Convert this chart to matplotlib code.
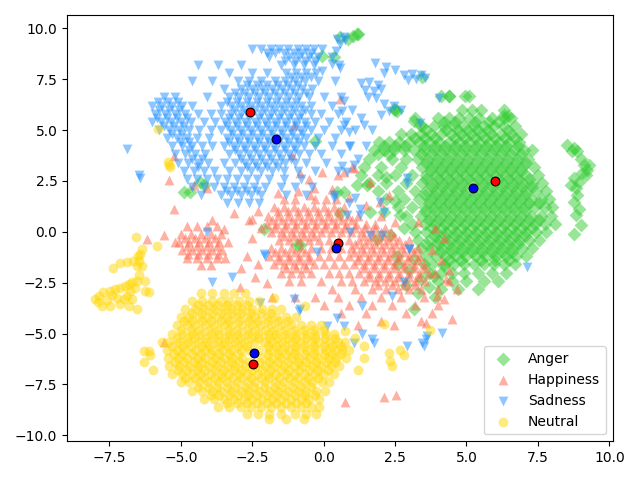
import matplotlib
matplotlib.use('Agg')
import matplotlib.pyplot as plt

labels = ['Anger', 'Happiness', 'Sadness', 'Neutral']
colors = ['limegreen', 'tomato', 'dodgerblue', 'gold']
markers = ['D', '^', 'v', 'o']

# dense parts read row by row: (y, [x, x, ...])
anger_rows = [
    (6.65, [4.1, 4.4, 4.95, 5.1]),
    (6.0, [2.5, 4.85, 5.2, 5.5, 6.3]),
    (5.6, [3.2, 4.0, 4.4, 4.75, 5.1, 5.45, 5.9, 6.3, 6.55]),
    (5.2, [3.45, 3.85, 4.2, 4.55, 4.9, 5.25, 5.6, 5.95, 6.3, 6.7]),
    (4.8, [2.7, 3.05, 3.4, 3.75, 4.1, 4.45, 4.8, 5.15, 5.5, 5.85, 6.2, 6.55, 6.9]),
    (4.4, [1.95, 2.3, 2.65, 3.0, 3.35, 3.7, 4.05, 4.4, 4.75, 5.1, 5.45, 5.8, 6.15, 6.5, 6.85]),
    (4.0, [1.75, 2.1, 2.45, 2.8, 3.15, 3.5, 3.85, 4.2, 4.55, 4.9, 5.25, 5.6, 5.95, 6.3, 6.65, 7.0, 7.3]),
    (3.6, [1.6, 2.4, 2.9, 3.3, 3.65, 4.0, 4.35, 4.7, 5.05, 5.4, 5.75, 6.1, 6.45, 6.8, 7.15]),
    (3.2, [1.4, 2.0, 2.7, 3.45, 3.8, 4.15, 4.5, 4.85, 5.2, 5.55, 5.9, 6.25, 6.6, 6.95, 7.35]),
    (2.8, [1.3, 1.9, 2.5, 3.1, 3.6, 3.95, 4.3, 4.65, 5.0, 5.35, 5.7, 6.05, 6.4, 6.75, 7.1, 7.5]),
    (2.4, [1.6, 2.2, 2.9, 3.45, 3.8, 4.15, 4.5, 4.85, 5.2, 5.55, 5.9, 6.25, 6.6, 6.95, 7.3, 7.65]),
    (2.0, [1.9, 2.6, 3.2, 3.6, 3.95, 4.3, 4.65, 5.0, 5.35, 5.7, 6.05, 6.4, 6.75, 7.1, 7.45, 7.8]),
    (1.6, [2.2, 2.8, 3.35, 3.75, 4.1, 4.45, 4.8, 5.15, 5.5, 5.85, 6.2, 6.55, 6.9, 7.25, 7.6, 7.9]),
    (1.2, [2.6, 3.1, 3.55, 3.9, 4.25, 4.6, 4.95, 5.3, 5.65, 6.0, 6.35, 6.7, 7.05, 7.4, 7.75, 8.0]),
    (0.8, [2.9, 3.4, 3.75, 4.1, 4.45, 4.8, 5.15, 5.5, 5.85, 6.2, 6.55, 6.9, 7.25, 7.6, 7.95]),
    (0.4, [3.1, 3.55, 3.9, 4.25, 4.6, 4.95, 5.3, 5.65, 6.0, 6.35, 6.7, 7.05, 7.4, 7.75, 8.1]),
    (0.0, [3.2, 3.6, 3.95, 4.3, 4.65, 5.0, 5.35, 5.7, 6.05, 6.4, 6.75, 7.1, 7.45, 7.8]),
    (-0.4, [3.3, 3.7, 4.05, 4.4, 4.75, 5.1, 5.45, 5.8, 6.15, 6.5, 6.85, 7.2, 7.55]),
    (-0.8, [3.4, 3.8, 4.15, 4.5, 4.85, 5.2, 5.55, 5.9, 6.25, 6.6, 6.95, 7.3]),
    (-1.2, [3.6, 3.95, 4.3, 4.65, 5.0, 5.35, 5.7, 6.05, 6.4, 6.75, 7.1]),
    (-1.6, [3.8, 4.2, 4.55, 4.9, 5.25, 5.6, 5.95, 6.3, 6.7]),
    (-2.0, [3.7, 4.1, 4.5, 4.9, 5.4, 5.9, 6.4]),
    (-2.4, [4.0, 4.5, 5.0, 5.6, 6.1]),
    (-2.8, [4.1, 4.7, 5.4]),
    # second, in-between layer of the packed core
    (5.4, [4.2, 4.6, 5.3, 5.8, 6.1]),
    (5.0, [3.6, 4.3, 4.7, 5.05, 5.4, 5.75, 6.45]),
    (4.6, [3.2, 3.55, 3.9, 4.6, 4.95, 5.3, 5.65, 6.0, 6.35, 6.7]),
    (4.2, [2.1, 2.5, 2.85, 3.5, 3.9, 4.25, 4.6, 4.95, 5.35, 5.7, 6.05, 6.4, 6.8]),
    (3.8, [1.9, 2.3, 3.4, 3.75, 4.1, 4.45, 4.8, 5.15, 5.5, 5.85, 6.2, 6.55, 6.9]),
    (3.4, [3.6, 3.95, 4.3, 4.65, 5.0, 5.35, 5.7, 6.05, 6.4, 6.75, 7.1]),
    (3.0, [3.75, 4.1, 4.45, 4.8, 5.15, 5.5, 5.85, 6.2, 6.55, 6.9]),
    (2.6, [3.6, 4.0, 4.35, 4.7, 5.05, 5.4, 5.75, 6.1, 6.45, 6.8, 7.2]),
    (2.2, [3.8, 4.15, 4.5, 4.85, 5.55, 5.9, 6.25, 6.6, 6.95, 7.3]),
    (1.8, [3.55, 3.9, 4.25, 4.6, 4.95, 5.3, 5.65, 6.0, 6.35, 6.7, 7.05]),
    (1.4, [3.7, 4.05, 4.4, 4.75, 5.1, 5.45, 5.8, 6.15, 6.5, 6.85, 7.2, 7.55]),
    (1.0, [3.55, 3.9, 4.25, 4.6, 4.95, 5.3, 5.65, 6.0, 6.35, 6.7, 7.05]),
    (0.6, [3.7, 4.05, 4.4, 4.75, 5.1, 5.45, 5.8, 6.15, 6.5, 6.85, 7.2, 7.55]),
    (0.2, [3.8, 4.15, 4.5, 4.85, 5.2, 5.55, 5.9, 6.25, 6.6, 6.95, 7.3]),
    (-0.2, [3.9, 4.25, 4.6, 4.95, 5.3, 5.65, 6.0, 6.35, 6.7, 7.05]),
    (-0.6, [4.0, 4.35, 4.7, 5.05, 5.4, 5.75, 6.1, 6.45, 6.8]),
    (-1.0, [4.1, 4.5, 4.85, 5.2, 5.55, 5.9, 6.25, 6.6]),
    (-1.4, [4.4, 4.8, 5.5, 6.0, 6.5]),
]
anger_extra = [
    (8.53, 4.28), (8.77, 4.12), (8.88, 3.95), (9.12, 3.29), (9.23, 3.04), (9.06, 2.88),
    (8.77, 2.63), (8.65, 2.3), (8.83, 2.13), (8.88, 1.8), (8.77, 1.47), (8.94, 1.14),
    (8.83, 0.81), (9.0, 0.32), (8.77, -0.09), (9.29, 3.29), (9.18, 2.8), (8.7, 3.95),
    (9.0, 3.6), (8.95, 2.45),
    (1.17, 9.72), (0.87, 9.47), (1.04, 9.64), (1.22, 9.72), (0.59, 9.56), (0.36, 8.57),
    (-0.05, 8.65), (3.45, 7.58), (2.58, 5.93), (2.46, 6.01), (-0.29, 4.44), (-4.32, 2.43),
    (-4.69, 1.94), (4.38, 6.67), (3.15, 5.45), (3.39, 5.27), (6.31, 5.76), (6.45, 5.7),
    (1.17, 2.3), (1.52, 2.3), (0.7, 1.97), (0.47, 1.97), (1.64, 0.98), (2.11, 0.98),
    (2.69, 0.81), (2.34, -0.18), (1.88, -0.34), (2.58, -1.17), (3.16, -1.33), (3.63, -0.67),
    (3.86, -2.16), (4.21, -1.66), (3.16, -3.81), (-0.93, -0.67), (-2.1, 0.15), (-4.9, 1.97),
    (-4.2, 2.3), (0.59, 0.9), (-0.81, -0.67),
    (2.6, -1.6), (3.0, -1.9), (3.4, -2.3), (2.9, -2.6), (3.7, -2.7), (3.3, -3.0),
    (3.9, -3.2), (3.5, -1.6), (2.8, 0.2), (2.5, 1.5), (2.2, 2.7),
]

happy_rows = [
    (1.6, [-1.4, -1.0, -0.3, 0.1, 0.45]),
    (1.2, [-1.75, -1.4, -1.05, -0.7, -0.35, 0.0, 0.35, 0.7]),
    (0.8, [-1.95, -1.6, -1.25, -0.9, -0.55, -0.2, 0.15, 0.5, 0.85, 1.2]),
    (0.4, [-2.0, -1.65, -1.3, -0.95, -0.6, -0.25, 0.1, 0.45, 0.8, 1.15, 1.5, 1.8]),
    (0.0, [-1.85, -1.5, -1.15, -0.8, -0.45, -0.1, 0.25, 0.6, 0.95, 1.3, 1.65, 2.0, 2.35]),
    (-0.4, [-1.55, -1.2, -0.85, -0.5, -0.15, 0.2, 0.55, 0.9, 1.25, 1.6, 1.95, 2.3, 2.65, 3.0]),
    (-0.8, [-1.85, -1.5, -1.15, -0.8, -0.45, -0.1, 0.25, 0.6, 0.95, 1.3, 1.65, 2.0, 2.35, 2.7, 3.05, 3.3]),
    (-1.2, [-1.9, -1.55, -1.2, -0.85, -0.5, -0.15, 0.2, 0.55, 0.9, 1.25, 1.6, 1.95, 2.3, 2.65, 3.0, 3.35]),
    (-1.6, [-1.75, -1.4, -1.05, -0.7, -0.35, 0.0, 0.35, 0.7, 1.05, 1.4, 1.75, 2.1, 2.45, 2.8, 3.15, 3.5]),
    (-2.0, [-1.5, -1.15, -0.8, -0.45, 0.2, 0.55, 0.9, 1.25, 1.6, 1.95, 2.3, 2.65, 3.0, 3.35, 3.7]),
    (-2.4, [-1.2, -0.8, -0.1, 0.6, 1.0, 1.4, 1.8, 2.15, 2.5, 2.85, 3.2, 3.55]),
    (-2.8, [0.3, 1.1, 1.7, 2.2, 2.6, 3.0, 3.4]),
    (-3.2, [-1.8, -1.0, -0.3, 0.5, 1.3, 2.0, 2.7, 3.5]),
    (-3.6, [0.0, 0.9, 1.7, 2.4, 3.2, 4.0]),
    (-4.0, [0.6, 1.5, 2.9, 3.8]),
    (-4.4, [2.0, 3.4]),
    (0.3, [-4.8, -4.45, -4.1, -3.75]),
    (-0.1, [-5.0, -4.65, -4.3, -3.95, -3.6]),
    (-0.5, [-5.05, -4.7, -4.35, -4.0, -3.65, -3.35]),
    (-0.9, [-4.95, -4.6, -4.25, -3.9, -3.55]),
    (-1.3, [-4.8, -4.45, -4.1, -3.75, -3.45]),
    (-1.65, [-4.3, -3.95]),
    # second layer
    (1.0, [-1.6, -1.25, -0.9, -0.55, -0.2, 0.15, 0.5]),
    (0.6, [-1.8, -1.45, -1.1, -0.75, -0.4, -0.05, 0.3, 0.65, 1.0]),
    (0.2, [-1.7, -1.35, -1.0, -0.65, -0.3, 0.05, 0.4, 0.75, 1.1, 1.45, 1.8, 2.15]),
    (-0.2, [-1.4, -1.05, -0.7, -0.35, 1.4, 1.75, 2.1, 2.45]),
    (-0.6, [1.1, 1.45, 1.8, 2.15, 2.5, 2.85]),
    (-1.0, [-1.7, -1.35, -1.0, -0.65, 1.05, 1.4, 1.75, 2.1, 2.45, 2.8, 3.15]),
    (-1.4, [-1.55, -1.2, -0.85, -0.5, 1.2, 1.55, 1.9, 2.25, 2.6, 2.95, 3.3]),
    (-1.8, [-1.3, -0.95, -0.6, 1.4, 1.75, 2.1, 2.45, 2.8, 3.15, 3.5]),
    (-2.2, [1.6, 1.95, 2.3, 2.65, 3.0, 3.35]),
    (-2.6, [1.9, 2.4, 2.8, 3.2]),
    (-0.3, [-4.85, -4.5, -4.15, -3.8]),
    (-0.7, [-4.8, -4.45, -4.1, -3.75]),
    (-1.1, [-4.75, -4.4, -4.05, -3.7]),
]
happy_extra = [
    (-6.19, -0.34), (-5.6, -0.14), (-5.19, -0.5), (-3.91, 0.56), (-5.23, 1.14), (-5.6, -5.43),
    (-3.5, 0.15), (-3.15, 0.9), (-2.51, 0.65), (-2.92, -2.73), (2.11, -8.1), (2.52, -8.01),
    (0.74, -8.38), (3.98, -3.15), (4.21, -3.31), (4.39, -2.4), (4.68, -2.82), (3.8, -0.9),
    (4.1, -1.4), (3.9, -2.0), (4.3, -2.3), (4.0, -2.8), (4.2, -0.3), (3.9, 0.2), (4.4, -1.9),
    (-2.3, 1.0), (-2.6, 0.6), (-2.2, 0.2), (-2.5, -0.3), (-2.7, -1.2), (-2.3, -1.6),
    (-2.9, -1.8), (-2.0, -2.5), (-2.4, -2.2), (-1.6, 1.9), (-0.9, 2.0), (0.3, 2.1), (0.9, 1.7),
    (1.5, 1.3), (2.0, 0.8), (2.5, 0.5), (0.5, 2.8), (1.0, 3.2), (-0.5, 2.6), (3.3, 0.5),
    (0.59, 6.5), (-0.81, 2.88), (-0.05, 2.96), (-5.43, 2.54), (-5.25, 3.7), (-1.1, 3.78),
    (-1.05, 5.27), (-0.35, 2.13), (-0.46, 1.8), (1.64, 2.47), (2.28, 1.8), (1.99, 1.48),
    (0.7, 2.96), (1.05, 3.12), (-4.08, 2.13), (-4.55, 2.3), (3.6, -4.5), (4.5, -4.3),
    (2.46, -4.6), (1.2, -4.6),
]

sad_rows = [
    (9.0, [-2.5, -2.2, -1.85, -1.55, -1.25, -0.9, -0.6, -0.35, -0.05]),
    (8.6, [-1.9, -1.2, -0.85, -0.5, -0.2, 0.3]),
    (8.2, [-4.4, -3.7, -2.9, -1.5, -1.05, -0.7, -0.35, 0.55]),
    (7.8, [-3.3, -2.5, -2.0, -1.3, -0.95, -0.6, -0.25]),
    (7.4, [-4.6, -3.9, -3.0, -2.6, -2.2, -1.7, -1.35, -1.0, -0.65, -0.2, 0.4]),
    (7.0, [-3.5, -2.9, -2.5, -2.15, -1.8, -1.45, -1.1, -0.75, -0.4]),
    (6.6, [-5.6, -5.2, -4.1, -3.3, -2.95, -2.6, -2.25, -1.9, -1.55, -1.2, -0.85, -0.5, 0.0, 0.6]),
    (6.2, [-6.0, -5.65, -5.3, -4.95, -4.6, -3.6, -3.25, -2.9, -2.55, -2.2, -1.85, -1.5, -1.15, -0.8, -0.45, 0.3]),
    (5.8, [-5.9, -5.55, -5.2, -4.85, -4.4, -3.95, -3.6, -3.25, -2.9, -2.2, -1.85, -1.5, -1.15, -0.8, -0.45, -0.1, 0.5]),
    (5.4, [-6.0, -5.7, -5.35, -5.0, -4.65, -4.2, -3.8, -3.45, -3.1, -2.75, -2.4, -2.05, -1.7, -1.35, -1.0, -0.65, -0.3, 0.2, 0.8]),
    (5.0, [-5.75, -5.4, -5.05, -4.7, -4.35, -3.95, -3.6, -3.25, -2.9, -2.55, -2.2, -1.85, -1.5, -1.15, -0.8, -0.45, 0.0, 0.6, 1.1]),
    (4.6, [-5.5, -5.15, -4.8, -4.45, -4.0, -3.4, -3.05, -2.7, -2.35, -2.0, -1.65, -1.3, -0.95, -0.6, -0.2, 0.4]),
    (4.2, [-5.3, -4.95, -4.6, -4.25, -3.9, -3.5, -3.15, -2.8, -2.45, -2.1, -1.75, -1.4, -1.05, -0.7, -0.3, 0.3, 0.9]),
    (3.8, [-5.2, -4.85, -4.5, -4.15, -3.3, -2.95, -2.6, -2.25, -1.9, -1.55, -1.2, -0.85, -0.5, -0.1]),
    (3.4, [-5.1, -4.75, -4.4, -4.05, -3.5, -3.1, -2.75, -2.4, -2.05, -1.7, -1.35, -1.0, -0.6, 0.1]),
    (3.0, [-4.9, -4.55, -4.2, -3.85, -3.3, -2.9, -2.55, -2.2, -1.8, -1.4, -0.9, -0.3, 0.5]),
    (2.6, [-4.8, -4.45, -4.1, -3.75, -3.4, -3.05, -2.7, -2.35, -1.9, -1.4, -0.8]),
    (2.2, [-4.6, -4.2, -3.85, -3.5, -3.15, -2.8, -2.45, -2.05, -1.5, -1.0, -0.4]),
    (1.8, [-4.3, -3.6, -3.25, -2.9, -2.55, -2.2, -1.3, -0.6, 0.35]),
    (1.4, [-3.4, -3.0, -2.6, -2.25, 0.9]),
    # second layer
    (8.8, [-2.0, -1.7, -1.4, -1.05, -0.75, -0.45]),
    (8.4, [-1.35, -1.0, -0.65, -0.3]),
    (7.6, [-1.15, -0.8, -0.45]),
    (7.2, [-2.7, -2.35, -2.0, -1.6, -1.25, -0.9]),
    (6.8, [-3.1, -2.75, -2.4, -2.05, -1.7, -1.35, -1.0, -0.6]),
    (6.4, [-5.8, -5.45, -5.1, -3.4, -3.05, -2.7, -2.35, -2.0, -1.65, -1.3, -0.95]),
    (6.0, [-5.75, -5.4, -5.05, -3.1, -2.75, -2.4, -2.05, -1.7, -1.35, -1.0, -0.65]),
    (5.6, [-5.85, -5.5, -5.15, -4.8, -3.3, -2.95, -2.6, -2.25, -1.9, -1.55, -1.2, -0.85]),
    (5.2, [-5.6, -5.25, -4.9, -3.4, -3.05, -2.7, -2.35, -2.0, -1.65, -1.3, -0.95, -0.6]),
    (4.8, [-5.3, -4.95, -3.2, -2.85, -2.5, -2.15, -1.8, -1.45, -1.1, -0.75]),
    (4.4, [-5.0, -4.7, -3.3, -2.95, -2.6, -2.25, -1.9, -1.55, -1.2, -0.85]),
    (4.0, [-4.7, -3.1, -2.75, -2.4, -2.05, -1.7, -1.35, -1.0]),
    (3.6, [-4.6, -4.25, -2.9, -2.55, -2.2, -1.85, -1.5, -1.15]),
    (3.2, [-4.4, -2.7, -2.35, -2.0, -1.6]),
    (2.0, [-3.4, -3.05, -2.7, -2.35]),
]
sad_extra = [
    (-6.89, 4.08), (-6.48, 2.79), (-6.42, 2.63),
    (-3.91, -2.49), (-3.21, -2.24), (-2.22, -3.48), (-1.05, -3.31), (-0.87, -3.89), (0.12, -4.63),
    (0.47, -4.22), (1.06, -5.46), (1.35, -5.04), (1.7, -5.29), (1.76, -5.46), (2.93, -5.62),
    (3.51, -5.62), (3.63, -5.13), (4.15, -4.96), (2.98, -0.84), (2.4, -3.15), (-2.1, -1.08),
    (-0.23, -1.0), (1.64, -0.18), (2.05, -0.18), (1.35, -3.64), (-4.08, -0.01), (0.7, -4.63),
    (3.45, -5.46), (3.57, -5.29), (2.81, -2.49), (-0.81, -3.81), (-2.04, -1.17),
    (0.35, 1.64), (1.11, 1.64), (1.29, 1.14), (0.82, 0.81),
    (4.03, 6.59), (3.39, 5.35), (2.93, 2.63), (2.93, 2.38), (3.0, -0.84), (7.13, -1.74),
    (0.94, -0.01), (1.29, 0.81), (0.65, 3.21), (0.82, 2.96), (1.06, 3.29), (0.94, 4.2),
    (1.41, 5.27), (0.7, 5.27), (0.7, 6.42), (0.65, 5.93), (1.99, 1.48), (2.11, 0.98),
    (0.47, 9.48), (0.7, 9.56), (0.59, 9.23), (0.76, 9.4), (0.3, 8.24), (0.59, 8.07),
    (-0.05, 7.9), (0.45, 8.9),
    (1.3, 7.3), (1.6, 7.35), (1.9, 7.2), (1.45, 6.95), (1.75, 6.9), (2.0, 7.0), (1.55, 6.6),
    (1.85, 6.55), (2.8, 7.7), (3.1, 7.75), (3.4, 7.7), (2.95, 7.45), (3.25, 7.5), (3.55, 7.55),
    (1.8, 8.3), (2.2, 8.1), (2.5, 7.95), (2.1, 7.8), (2.1, 6.3), (2.45, 6.2), (2.3, 5.95),
    (2.7, 6.0), (2.0, 5.75), (1.0, 6.0), (1.3, 5.6), (0.9, 4.9), (1.5, 4.2), (1.2, 3.6),
    (0.6, 3.8), (1.7, 5.0),
]

neutral_rows = [
    (-3.0, [-4.3, -3.9, -3.5, -3.15, -2.75]),
    (-3.4, [-4.6, -4.25, -3.9, -3.6, -3.3, -2.95, -2.6, -2.25]),
    (-3.8, [-4.85, -4.5, -4.2, -3.85, -3.5, -3.2, -2.85, -2.5, -2.15, -1.8, -1.5]),
    (-4.2, [-5.0, -4.7, -4.35, -4.05, -3.7, -3.4, -3.05, -2.7, -2.4, -2.0, -1.65, -1.3, -0.95]),
    (-4.6, [-5.15, -4.8, -4.5, -4.15, -3.85, -3.5, -3.2, -2.85, -2.5, -2.2, -1.85, -1.5, -1.15, -0.8, -0.45, -0.1]),
    (-5.0, [-5.3, -4.95, -4.6, -4.3, -3.95, -3.65, -3.3, -3.0, -2.65, -2.3, -1.95, -1.65, -1.3, -0.95, -0.6, -0.3, 0.05, 0.35]),
    (-5.4, [-5.4, -5.05, -4.75, -4.4, -4.1, -3.75, -3.45, -3.1, -2.8, -2.45, -2.1, -1.8, -1.45, -1.1, -0.8, -0.45, -0.15, 0.2, 0.5, 0.75]),
    (-5.8, [-5.5, -5.15, -4.85, -4.5, -4.2, -3.9, -3.55, -3.25, -2.9, -2.6, -2.25, -1.9, -1.6, -1.25, -0.95, -0.6, -0.3, 0.05, 0.35, 0.65, 0.9]),
    (-6.2, [-5.45, -5.1, -4.8, -4.45, -4.15, -3.8, -3.5, -3.2, -2.85, -2.15, -1.8, -1.5, -1.15, -0.85, -0.5, -0.2, 0.15, 0.45, 0.8]),
    (-6.6, [-5.4, -5.05, -4.7, -4.4, -4.05, -3.75, -3.4, -3.1, -2.75, -2.4, -2.05, -1.75, -1.4, -1.05, -0.75, -0.4, -0.1, 0.25, 0.55]),
    (-7.0, [-5.3, -4.95, -4.6, -4.3, -3.95, -3.6, -3.3, -2.95, -2.65, -2.3, -1.95, -1.65, -1.3, -1.0, -0.65, -0.3, 0.0, 0.35]),
    (-7.4, [-5.0, -4.7, -4.35, -4.05, -3.7, -3.4, -3.05, -2.7, -2.4, -2.05, -1.7, -1.4, -1.05, -0.7, -0.4, -0.05, 0.2]),
    (-7.8, [-4.6, -4.25, -3.9, -3.6, -3.25, -2.9, -2.6, -2.25, -1.9, -1.6, -1.25, -0.9, -0.6, -0.25, 0.05]),
    (-8.2, [-4.2, -3.85, -3.5, -3.15, -2.8, -2.5, -2.15, -1.8, -1.5, -1.15, -0.8, -0.5, -0.15]),
    (-8.6, [-3.7, -3.3, -2.9, -2.55, -2.2, -1.85, -1.5, -1.15, -0.8, -0.45, -0.15]),
    (-8.95, [-2.7, -2.3, -1.9, -1.5, -1.0, -0.6, -0.25]),
    (-9.2, [-1.9, -1.3, -0.7]),
    # second layer
    (-3.6, [-4.4, -4.05, -3.75, -3.4, -3.05, -2.7]),
    (-4.0, [-4.6, -4.25, -3.9, -3.55, -3.2, -2.9, -2.55, -2.2, -1.85]),
    (-4.4, [-4.9, -4.6, -4.25, -3.95, -3.6, -3.3, -2.95, -2.6, -2.3, -1.95, -1.6, -1.25]),
    (-4.8, [-5.0, -4.65, -4.35, -4.0, -3.7, -3.35, -3.05, -2.7, -2.4, -2.05, -1.75, -1.4, -1.05, -0.7, -0.35, 0.0]),
    (-5.2, [-5.15, -4.8, -4.5, -4.15, -3.85, -3.5, -3.2, -2.9, -2.55, -2.25, -1.9, -1.6, -1.25, -0.95, -0.6, -0.3, 0.05, 0.4]),
    (-5.6, [-5.3, -4.95, -4.65, -4.3, -4.0, -3.65, -3.35, -3.0, -2.7, -1.95, -1.65, -1.35, -1.0, -0.7, -0.35, 0.0, 0.3, 0.6]),
    (-6.0, [-5.25, -4.95, -4.6, -4.3, -3.95, -3.65, -3.3, -3.0, -1.95, -1.6, -1.3, -1.0, -0.65, -0.35, 0.0, 0.3, 0.6]),
    (-6.4, [-5.2, -4.9, -4.55, -4.25, -3.9, -3.6, -3.25, -2.95, -2.6, -2.25, -1.9, -1.6, -1.25, -0.9, -0.6, -0.25, 0.1, 0.4]),
    (-6.8, [-5.1, -4.8, -4.45, -4.15, -3.8, -3.5, -3.15, -2.85, -2.5, -2.15, -1.85, -1.5, -1.2, -0.85, -0.5, -0.2, 0.15]),
    (-7.2, [-4.85, -4.5, -4.2, -3.85, -3.55, -3.2, -2.9, -2.55, -2.2, -1.9, -1.55, -1.2, -0.9, -0.55, -0.2]),
    (-7.6, [-4.4, -4.05, -3.75, -3.4, -3.1, -2.75, -2.45, -2.1, -1.75, -1.45, -1.1, -0.8, -0.45]),
    (-8.0, [-3.95, -3.65, -3.3, -3.0, -2.65, -2.35, -2.0, -1.65, -1.35, -1.0, -0.65, -0.3]),
    (-8.4, [-3.4, -3.05, -2.7, -2.35, -2.0, -1.65, -1.3, -0.95, -0.6]),
]
neutral_extra = [
    (-6.56, -0.26), (-6.36, -0.84), (-6.42, -1.08), (-6.48, -1.41), (-6.54, -1.66), (-6.66, -1.41),
    (-6.89, -1.5), (-7.12, -1.55), (-7.36, -1.78), (-6.36, -1.66), (-8.0, -3.28), (-7.88, -3.15),
    (-7.71, -2.98), (-7.47, -2.9), (-7.3, -2.82), (-7.12, -2.78), (-6.95, -2.68), (-6.83, -2.57),
    (-6.71, -2.49), (-6.54, -2.4), (-6.25, -2.4), (-6.77, -2.9), (-6.89, -3.15), (-6.71, -3.31),
    (-6.54, -3.81), (-6.83, -3.64), (-7.12, -3.56), (-7.47, -3.64), (-7.76, -3.64), (-6.25, -2.9),
    (-6.13, -2.98), (-7.0, -3.31), (-7.24, -3.23), (-7.6, -3.35), (-7.9, -3.45), (-7.4, -3.1),
    (-6.6, -2.75), (-6.45, -2.1), (-6.5, -1.2), (-5.82, -0.68),
    (-6.3, -5.87), (-6.07, -6.03), (-6.3, -6.41), (-5.96, -6.78), (-6.13, -5.87), (-5.66, -5.42),
    (-5.81, 5.07), (-5.46, 3.42), (-5.37, 3.2), (-5.4, 3.3),
    (-0.64, -3.64), (-1.75, -3.23), (1.41, -5.62), (1.41, -6.2), (2.28, -5.94), (2.34, -6.37),
    (2.4, -6.61), (2.69, -5.79), (2.81, -6.03), (2.11, -4.55), (3.74, -4.8), (0.76, -4.88),
    (1.2, -6.8), (1.1, -5.2),
]

# class centres (red and blue dots)
centre_red = [(5.99, 2.52), (0.49, -0.54), (-2.57, 5.88), (-2.48, -6.5)]
centre_blue = [(5.24, 2.13), (0.42, -0.8), (-1.68, 4.56), (-2.45, -5.95)]


def unpack(rows, extra):
    xs, ys = [], []
    for y, row in rows:
        for x in row:
            xs.append(x)
            ys.append(y)
    for x, y in extra:
        xs.append(x)
        ys.append(y)
    return xs, ys


groups = [unpack(anger_rows, anger_extra), unpack(happy_rows, happy_extra),
          unpack(sad_rows, sad_extra), unpack(neutral_rows, neutral_extra)]

fig, ax = plt.subplots(figsize=(6.4, 4.8), dpi=100)

for (xs, ys), lab, col, mk in zip(groups, labels, colors, markers):
    ax.scatter(xs, ys, c=col, marker=mk, s=50, alpha=0.5, linewidths=0, label=lab)

ax.scatter([p[0] for p in centre_red], [p[1] for p in centre_red],
           c='red', edgecolors='black', linewidths=0.8, s=40, zorder=3)
ax.scatter([p[0] for p in centre_blue], [p[1] for p in centre_blue],
           c='blue', edgecolors='black', linewidths=0.8, s=40, zorder=3)

ax.set_xlim(-8.98, 10.12)
ax.set_ylim(-10.29, 10.65)

leg = ax.legend(loc='lower right')
for h in leg.legend_handles:
    h.set_alpha(0.5)

fig.tight_layout()
fig.savefig('out.png', dpi=100)
